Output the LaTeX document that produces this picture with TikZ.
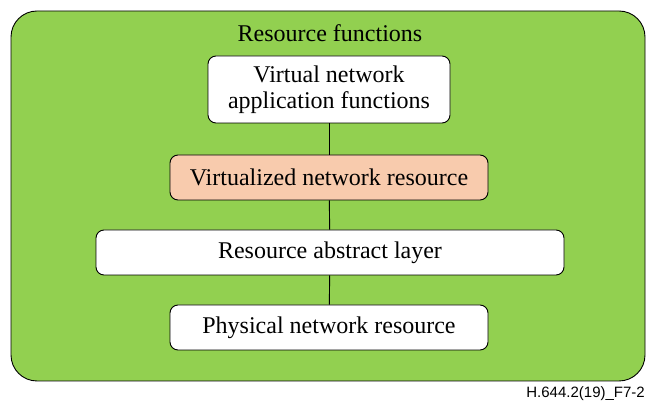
\documentclass[tikz,border=0pt]{standalone}
\usepackage{fontspec}
\setmainfont{Liberation Serif}
\newfontfamily\labelfont{Liberation Sans}
\definecolor{resgreen}{HTML}{92D050}
\definecolor{peach}{HTML}{F8CBAD}
\begin{document}
\begin{tikzpicture}[x=1pt,y=-1pt,
  layerbox/.style={draw=black, line width=0.9pt, rounded corners=8pt, fill=white,
    inner sep=0pt, align=center, font=\fontsize{24}{26}\selectfont},
  link/.style={draw=black, line width=0.9pt}]
  \useasboundingbox (0,0) rectangle (646,403);
  % outer container
  \draw[line width=0.9pt, rounded corners=26pt, fill=resgreen] (11,11) rectangle (645,381);
  \node[font=\fontsize{24}{26}\selectfont] (title) at (330,33) {Resource functions};
  % layers
  \node[layerbox, minimum width=242pt, minimum height=67pt] (vnaf) at (329,89.5)
    {Virtual network\\application functions};
  \node[layerbox, fill=peach, minimum width=318pt, minimum height=45pt] (vnr) at (329,177.5)
    {Virtualized network resource};
  \node[layerbox, minimum width=468pt, minimum height=45pt] (ral) at (330,252.5)
    {Resource abstract layer};
  \node[layerbox, minimum width=318pt, minimum height=45pt] (pnr) at (329,327.5)
    {Physical network resource};
  % connectors
  \draw[link] (vnaf) -- (vnr);
  \draw[link] (vnr) -- (ral);
  \draw[link] (ral) -- (pnr);
  % figure tag
  \node[anchor=east, font=\labelfont\fontsize{15}{17}\selectfont, inner sep=0pt] (tag) at (645,394) {H.644.2(19)\_F7-2};
\end{tikzpicture}
\end{document}
